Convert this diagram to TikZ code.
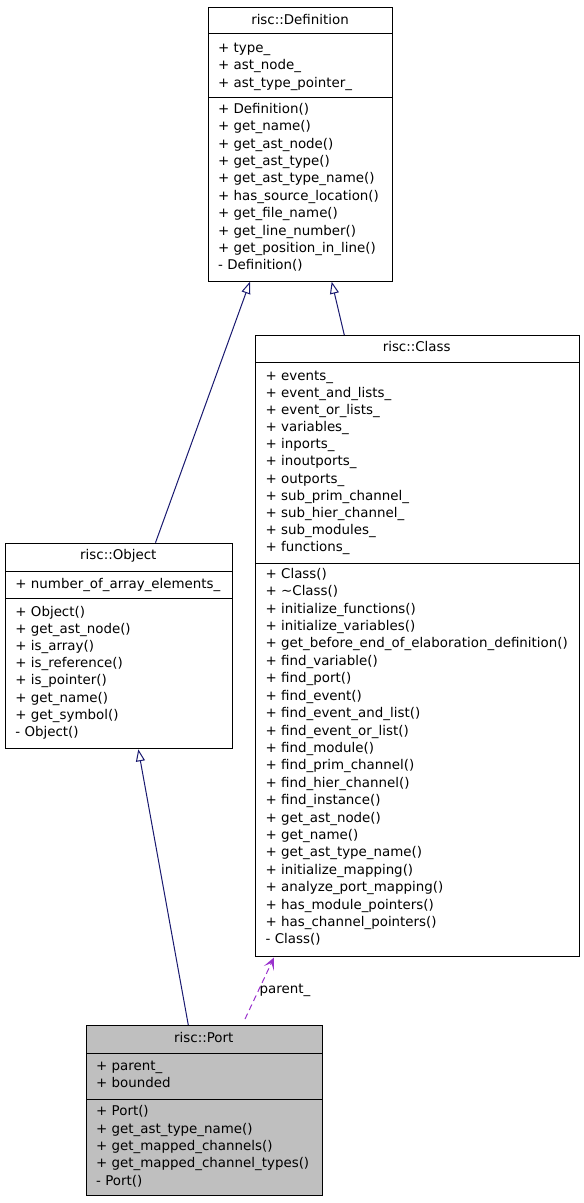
\documentclass[tikz,border=0pt]{standalone}
\usepackage{fontspec}
\setmainfont{DejaVu Sans}
\usetikzlibrary{arrows.meta,calc}
\definecolor{inhcol}{HTML}{191970}
\definecolor{usecol}{HTML}{9A32CD}
\definecolor{portfill}{HTML}{BFBFBF}
\tikzset{
  umlbox/.style={draw=black, line width=1pt, inner sep=0pt, anchor=north west},
  sepline/.style={draw=black, line width=1pt},
  txt/.style={anchor=base west, inner sep=0pt, font=\fontsize{13.4}{16}\selectfont},
  ttl/.style={anchor=base, inner sep=0pt, font=\fontsize{13.4}{16}\selectfont},
  inherit/.style={draw=inhcol, line width=1pt, -{Triangle[open,length=12pt,width=9pt]}},
  usage/.style={draw=usecol, line width=1pt, dash pattern=on 6pt off 4pt, -{Stealth[length=12pt,width=11pt,inset=6pt]}},
  lbl/.style={anchor=base west, inner sep=0pt, font=\fontsize{13.4}{16}\selectfont},
}
\begin{document}
\begin{tikzpicture}[x=1pt,y=-1pt]
\useasboundingbox (0,0) rectangle (584,1203);
\fill[white] (0,0) rectangle (584,1203);

% ---------- risc::Definition ----------
\node[umlbox, minimum width=183.2pt, minimum height=273.4pt] (def) at (208.3,7.3) {};
\draw[sepline] (208.3,33.5) -- (391.5,33.5);
\draw[sepline] (208.3,97.5) -- (391.5,97.5);
\node[ttl] (defT) at (300,24) {risc::Definition};
\foreach \t [count=\i] in {+ type\_, + ast\_node\_, + ast\_type\_pointer\_}
  \node[txt] (defA\i) at (218,{52.7+17.2*(\i-1)}) {\t};
\foreach \t [count=\i] in {+ Definition(), + get\_name(), + get\_ast\_node(), + get\_ast\_type(), + get\_ast\_type\_name(), + has\_source\_location(), + get\_file\_name(), + get\_line\_number(), + get\_position\_in\_line(), - Definition()}
  \node[txt] (defM\i) at (218,{113.3+17.4*(\i-1)}) {\t};

% ---------- risc::Class ----------
\node[umlbox, minimum width=323.5pt, minimum height=620.5pt] (cls) at (255,335) {};
\draw[sepline] (255,362.3) -- (578.5,362.3);
\draw[sepline] (255,563.7) -- (578.5,563.7);
\node[ttl] (clsT) at (416.7,351.7) {risc::Class};
\foreach \t [count=\i] in {+ events\_, + event\_and\_lists\_, + event\_or\_lists\_, + variables\_, + inports\_, + inoutports\_, + outports\_, + sub\_prim\_channel\_, + sub\_hier\_channel\_, + sub\_modules\_, + functions\_}
  \node[txt] (clsA\i) at (265.5,{380+17.17*(\i-1)}) {\t};
\foreach \t [count=\i] in {+ Class(), + \textasciitilde Class(), + initialize\_functions(), + initialize\_variables(), + get\_before\_end\_of\_elaboration\_definition(), + find\_variable(), + find\_port(), + find\_event(), + find\_event\_and\_list(), + find\_event\_or\_list(), + find\_module(), + find\_prim\_channel(), + find\_hier\_channel(), + find\_instance(), + get\_ast\_node(), + get\_name(), + get\_ast\_type\_name(), + initialize\_mapping(), + analyze\_port\_mapping(), + has\_module\_pointers(), + has\_channel\_pointers(), - Class()}
  \node[txt] (clsM\i) at (265.5,{578.3+17.41*(\i-1)}) {\t};

% ---------- risc::Object ----------
\node[umlbox, minimum width=226.7pt, minimum height=205.6pt] (obj) at (5,542.7) {};
\draw[sepline] (5,571) -- (231.7,571);
\draw[sepline] (5,598.3) -- (231.7,598.3);
\node[ttl] (objT) at (118.3,559.3) {risc::Object};
\node[txt] (objA1) at (15.3,588.3) {+ number\_of\_array\_elements\_};
\foreach \t [count=\i] in {+ Object(), + get\_ast\_node(), + is\_array(), + is\_reference(), + is\_pointer(), + get\_name(), + get\_symbol(), - Object()}
  \node[txt] (objM\i) at (15.3,{616+17.24*(\i-1)}) {\t};

% ---------- risc::Port ----------
\node[umlbox, fill=portfill, minimum width=235.7pt, minimum height=170pt] (port) at (86,1025) {};
\draw[sepline] (86,1053.3) -- (321.7,1053.3);
\draw[sepline] (86,1099) -- (321.7,1099);
\node[ttl] (portT) at (203.8,1042.7) {risc::Port};
\foreach \t [count=\i] in {+ parent\_, + bounded}
  \node[txt] (portA\i) at (96,{1070.7+17*(\i-1)}) {\t};
\foreach \t [count=\i] in {+ Port(), + get\_ast\_type\_name(), + get\_mapped\_channels(), + get\_mapped\_channel\_types(), - Port()}
  \node[txt] (portM\i) at (96,{1115.7+17.33*(\i-1)}) {\t};

% ---------- connectors ----------
\coordinate (objUp) at ($(obj.north west)+(150.5,0)$);
\coordinate (defDownL) at ($(def.south west)+(41.7,0)$);
\coordinate (clsUp) at ($(cls.north west)+(89.3,0)$);
\coordinate (defDownR) at ($(def.south west)+(123.4,0)$);
\coordinate (portUp) at ($(port.north west)+(102.3,0)$);
\coordinate (objDown) at ($(obj.south west)+(133.3,0)$);
\coordinate (portUse) at ($(port.north west)+(159,-6)$);
\coordinate (clsDown) at ($(cls.south west)+(19,1)$);

\draw[inherit] (objUp) -- (defDownL);
\draw[inherit] (clsUp) -- (defDownR);
\draw[inherit] (portUp) -- (objDown);
\draw[usage] (portUse) -- (clsDown);
\node[lbl] (useLbl) at (259.5,993.3) {parent\_};
\end{tikzpicture}
\end{document}
